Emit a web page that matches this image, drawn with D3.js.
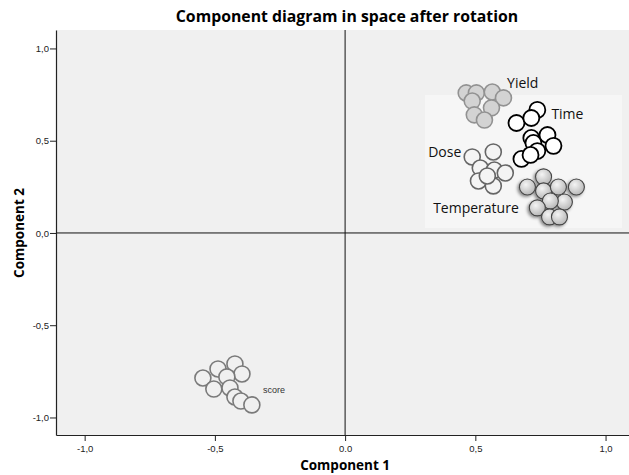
<!DOCTYPE html>
<html>
<head>
<meta charset="utf-8">
<script src="https://cdn.jsdelivr.net/npm/d3@7"></script>
<style>
  body { margin: 0; background: #fff; }
  svg { display: block; }
</style>
</head>
<body>
<div id="chart"></div>
<script>
// loadings (component 1, component 2)
var yieldPts = [[0.465,0.759],[0.504,0.759],[0.565,0.764],[0.608,0.732],[0.488,0.715],[0.562,0.678],[0.496,0.640],[0.535,0.612]];
var timePts = [[0.738,0.667],[0.658,0.596],[0.715,0.623],[0.715,0.515],[0.777,0.531],[0.800,0.472],[0.723,0.488],[0.738,0.444],[0.677,0.401],[0.712,0.423]];
var dosePts = [[0.488,0.412],[0.569,0.439],[0.519,0.352],[0.573,0.341],[0.615,0.325],[0.512,0.282],[0.569,0.255],[0.546,0.309]];
var tempPts = [[0.762,0.304],[0.700,0.249],[0.762,0.228],[0.819,0.249],[0.888,0.249],[0.842,0.168],[0.788,0.173],[0.738,0.136],[0.785,0.087],[0.823,0.087]];
var scorePts = [[-0.546,-0.786],[-0.488,-0.737],[-0.423,-0.710],[-0.396,-0.764],[-0.454,-0.780],[-0.504,-0.846],[-0.442,-0.840],[-0.423,-0.889],[-0.400,-0.911],[-0.358,-0.932]];

var xTicks = [-1, -0.5, 0, 0.5, 1];
var xTickLabels = ['-1,0', '-0,5', '0.0', '0,5', '1,0'];
var yTicks = [-1, -0.5, 0, 0.5, 1];
var yTickLabels = ['-1,0', '-0,5', '0,0', '0,5', '1,0'];

// label anchor positions (data units)
var labels = [
  {text: 'Yield', x: 0.622, y: 0.785, size: 14},
  {text: 'Time', x: 0.792, y: 0.617, size: 14},
  {text: 'Dose', x: 0.319, y: 0.411, size: 14},
  {text: 'Temperature', x: 0.338, y: 0.108, size: 14},
  {text: 'score', x: -0.315, y: -0.867, size: 9}
];

const width = 629;
const height = 475;
const padL = 56, padR = 629, padT = 30, padB = 435;

var svg = d3.select('#chart').append('svg')
  .attr('width', width)
  .attr('height', height);

var defs = svg.append('defs');
var grad = defs.append('radialGradient').attr('id', 'tempGrad')
  .attr('cx', '40%').attr('cy', '35%').attr('r', '70%');
grad.append('stop').attr('offset', '0%').attr('stop-color', '#f4f4f4');
grad.append('stop').attr('offset', '100%').attr('stop-color', '#b4b4b4');
var shadow = defs.append('filter').attr('id', 'shadow')
  .attr('x', '-50%').attr('y', '-50%').attr('width', '200%').attr('height', '200%');
shadow.append('feDropShadow').attr('dx', -1.5).attr('dy', 1.5).attr('stdDeviation', 1.5)
  .attr('flood-color', '#000').attr('flood-opacity', 0.45);

var xScale = d3.scaleLinear().domain([-1.11, 1.09]).range([padL, padR]);
var yScale = d3.scaleLinear().domain([-1.095, 1.1]).range([padB, padT]);

svg.append('rect')
  .attr('x', padL).attr('y', padT)
  .attr('width', padR - padL).attr('height', padB - padT)
  .attr('fill', '#f0f0f0');

// faint lighter patch behind the clusters
svg.append('rect')
  .attr('x', 425).attr('y', 95)
  .attr('width', 197).attr('height', 133)
  .attr('fill', '#f6f6f6');

// zero lines
svg.append('line')
  .attr('x1', xScale(0)).attr('x2', xScale(0))
  .attr('y1', padT).attr('y2', padB)
  .attr('stroke', '#111').attr('stroke-width', 1);
svg.append('line')
  .attr('x1', padL).attr('x2', padR)
  .attr('y1', yScale(0)).attr('y2', yScale(0))
  .attr('stroke', '#111').attr('stroke-width', 1);

// axes
var xAxis = d3.axisBottom(xScale).tickValues(xTicks).tickSize(6).tickSizeOuter(0)
  .tickFormat((d, i) => xTickLabels[i]);
var yAxis = d3.axisLeft(yScale).tickValues(yTicks).tickSize(6).tickSizeOuter(0)
  .tickFormat((d, i) => yTickLabels[i]);

var gx = svg.append('g').attr('transform', 'translate(0,' + padB + ')').call(xAxis);
var gy = svg.append('g').attr('transform', 'translate(' + padL + ',0)').call(yAxis);
[gx, gy].forEach(function(g){
  g.select('.domain').attr('stroke', '#222').attr('stroke-width', 1.2);
  g.selectAll('.tick line').attr('stroke', '#222');
  g.selectAll('.tick text')
    .style('font-family', 'Liberation Sans, Arial, sans-serif')
    .style('font-size', '9.5px')
    .attr('fill', '#222');
});
gx.selectAll('.tick text').attr('dy', '0.8em');
gy.selectAll('.tick text').attr('x', -7);

function drawGroup(pts, style){
  svg.append('g')
    .attr('filter', style.filter || null)
    .selectAll('circle')
    .data(pts)
    .join('circle')
      .attr('cx', d => xScale(d[0]))
      .attr('cy', d => yScale(d[1]))
      .attr('r', 8)
      .attr('fill', style.fill)
      .attr('stroke', style.stroke)
      .attr('stroke-width', style.sw);
}

drawGroup(yieldPts, {fill: '#d3d3d3', stroke: '#929292', sw: 1.6});
drawGroup(dosePts, {fill: '#f4f4f4', stroke: '#666', sw: 1.6});
drawGroup(timePts, {fill: '#fff', stroke: '#000', sw: 1.8});
drawGroup(tempPts, {fill: 'url(#tempGrad)', stroke: '#444', sw: 1.1, filter: 'url(#shadow)'});
drawGroup(scorePts, {fill: '#f0f0f0', stroke: '#7a7a7a', sw: 1.6});

svg.selectAll('text.lbl')
  .data(labels)
  .join('text')
    .attr('class', 'lbl')
    .attr('x', d => xScale(d.x))
    .attr('y', d => yScale(d.y))
    .style('font-family', d => d.size < 10 ? 'Liberation Sans, Arial, sans-serif' : 'Open Sans, sans-serif')
    .style('font-size', d => d.size + 'px')
    .attr('fill', d => d.size < 10 ? '#333' : '#111')
    .text(d => d.text);

svg.append('text')
  .attr('x', 347).attr('y', 22)
  .attr('text-anchor', 'middle')
  .style('font-family', 'Open Sans, sans-serif')
  .style('font-weight', 'bold')
  .style('font-size', '15.8px')
  .text('Component diagram in space after rotation');

svg.append('text')
  .attr('x', xScale(0)).attr('y', 470)
  .attr('text-anchor', 'middle')
  .style('font-family', 'Open Sans, sans-serif')
  .style('font-weight', 'bold')
  .style('font-size', '13.5px')
  .text('Component 1');

svg.append('text')
  .attr('transform', 'translate(24,' + yScale(0) + ') rotate(-90)')
  .attr('text-anchor', 'middle')
  .style('font-family', 'Open Sans, sans-serif')
  .style('font-weight', 'bold')
  .style('font-size', '13.5px')
  .text('Component 2');
</script>
</body>
</html>
